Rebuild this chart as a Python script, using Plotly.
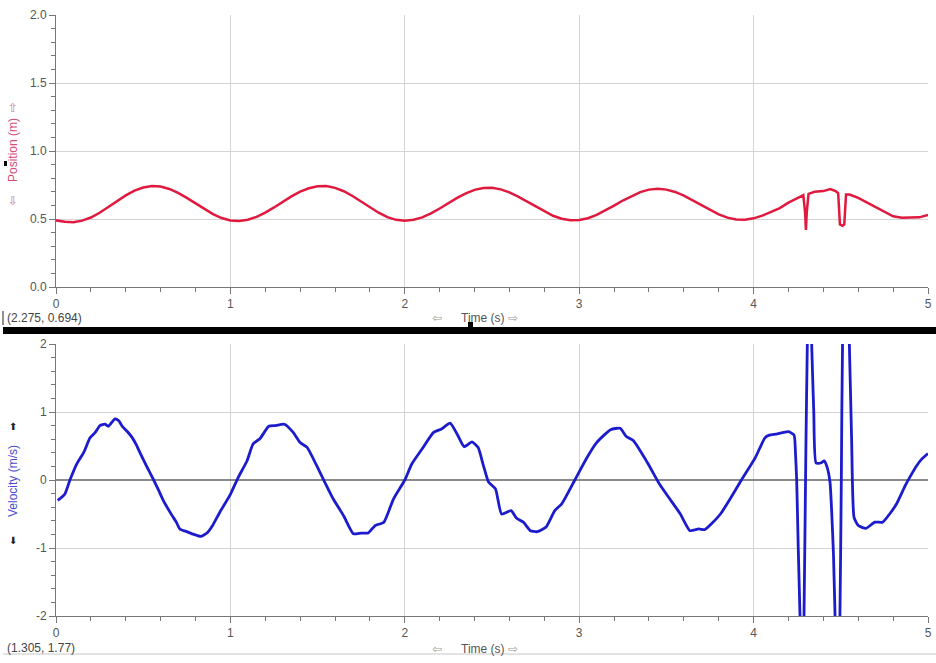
import plotly.graph_objects as go

# ---------------- data ----------------
t_pos = [0.00, 0.05, 0.10, 0.15, 0.20, 0.25, 0.30, 0.35, 0.40, 0.45, 0.50, 0.55,
         0.60, 0.65, 0.70, 0.75, 0.80, 0.85, 0.90, 0.95, 1.00, 1.05,
         1.10, 1.15, 1.20, 1.25, 1.30, 1.35, 1.40, 1.45, 1.50, 1.55,
         1.60, 1.65, 1.70, 1.75, 1.80, 1.85, 1.90, 1.95, 2.00,
         2.05, 2.10, 2.15, 2.20, 2.25, 2.30, 2.35, 2.40, 2.45, 2.50,
         2.55, 2.60, 2.65, 2.70, 2.75, 2.80, 2.85, 2.90, 2.95, 3.00,
         3.05, 3.10, 3.15, 3.20, 3.25, 3.30, 3.35, 3.40, 3.45,
         3.50, 3.55, 3.60, 3.65, 3.70, 3.75, 3.80, 3.85, 3.90, 3.95,
         4.00, 4.05, 4.10, 4.15, 4.20, 4.25, 4.27, 4.285, 4.295, 4.300, 4.305,
         4.315, 4.35, 4.40, 4.44, 4.47, 4.485, 4.495, 4.51, 4.52, 4.53,
         4.55, 4.60, 4.65, 4.70, 4.75, 4.80, 4.85, 4.90, 4.95, 5.00]
position = [0.490, 0.480, 0.477, 0.488, 0.511, 0.546, 0.588, 0.632, 0.674, 0.709, 0.732, 0.743,
            0.739, 0.721, 0.692, 0.655, 0.614, 0.573, 0.536, 0.507, 0.489, 0.485,
            0.495, 0.516, 0.547, 0.585, 0.626, 0.666, 0.701, 0.726, 0.741, 0.742,
            0.729, 0.704, 0.669, 0.628, 0.585, 0.546, 0.514, 0.494, 0.487,
            0.494, 0.512, 0.541, 0.577, 0.617, 0.655, 0.689, 0.714, 0.728, 0.729,
            0.718, 0.696, 0.665, 0.629, 0.591, 0.555, 0.524, 0.502, 0.491, 0.492,
            0.506, 0.530, 0.562, 0.598, 0.636, 0.670, 0.698, 0.716, 0.722,
            0.716, 0.699, 0.672, 0.638, 0.601, 0.565, 0.534, 0.510, 0.497, 0.495,
            0.505, 0.525, 0.550, 0.580, 0.620, 0.655, 0.670, 0.675, 0.550, 0.420, 0.550,
            0.685, 0.700, 0.705, 0.720, 0.705, 0.690, 0.460, 0.450, 0.460, 0.680,
            0.680, 0.655, 0.620, 0.585, 0.550, 0.520, 0.510, 0.510, 0.512, 0.530]

t_vel = [0.01, 0.05, 0.08, 0.12, 0.16, 0.195, 0.225, 0.252, 0.281, 0.30, 0.338, 0.36,
         0.38, 0.41, 0.435, 0.46, 0.48, 0.52, 0.56, 0.59, 0.615, 0.665, 0.69, 0.71,
         0.75, 0.79, 0.83, 0.865, 0.90, 0.94, 1.00, 1.045, 1.095, 1.13, 1.17, 1.22,
         1.26, 1.31, 1.36, 1.40, 1.44, 1.495, 1.535, 1.59, 1.65, 1.705, 1.75, 1.79,
         1.83, 1.88, 1.935, 2.00, 2.04, 2.10, 2.165, 2.21, 2.26, 2.305, 2.34, 2.385,
         2.42, 2.45, 2.48, 2.52, 2.555, 2.61, 2.64, 2.68, 2.72, 2.76, 2.81, 2.86,
         2.90, 2.975, 3.04, 3.10, 3.18, 3.235, 3.27, 3.31, 3.39, 3.46, 3.52, 3.58,
         3.635, 3.685, 3.72, 3.76, 3.81, 3.865, 3.93, 4.01, 4.065, 4.09, 4.13, 4.20,
         4.232, 4.240, 4.247, 4.256, 4.266, 4.277, 4.289, 4.300, 4.308, 4.320, 4.333,
         4.345, 4.358, 4.385, 4.404, 4.42, 4.438, 4.448, 4.458, 4.467, 4.481, 4.495,
         4.503, 4.51, 4.53, 4.549, 4.562, 4.576, 4.60, 4.645, 4.695, 4.74, 4.78,
         4.82, 4.87, 4.90, 4.935, 4.965, 5.00]
velocity = [-0.30, -0.21, 0.00, 0.24, 0.41, 0.62, 0.70, 0.80, 0.82, 0.79, 0.90, 0.87,
            0.79, 0.71, 0.63, 0.52, 0.41, 0.20, 0.00, -0.16, -0.30, -0.52, -0.62, -0.72,
            -0.76, -0.80, -0.83, -0.78, -0.66, -0.47, -0.21, 0.04, 0.28, 0.53, 0.61, 0.79,
            0.80, 0.82, 0.70, 0.55, 0.48, 0.21, 0.00, -0.28, -0.53, -0.79, -0.78, -0.78,
            -0.67, -0.62, -0.28, 0.00, 0.235, 0.46, 0.70, 0.75, 0.835, 0.65, 0.49, 0.56,
            0.48, 0.22, -0.03, -0.13, -0.50, -0.45, -0.56, -0.62, -0.745, -0.76, -0.69, -0.45,
            -0.35, 0.00, 0.31, 0.55, 0.74, 0.76, 0.64, 0.58, 0.26, -0.06, -0.28, -0.50,
            -0.745, -0.72, -0.73, -0.64, -0.50, -0.28, 0.00, 0.33, 0.62, 0.66, 0.675, 0.71,
            0.66, 0.40, 0.00, -1.00, -2.00, -3.40, -2.00, 0.50, 2.00, 3.40, 2.00,
            1.00, 0.25, 0.25, 0.28, 0.20, -0.03, -0.48, -1.10, -2.00, -3.40, -2.00,
            0.00, 2.00, 3.40, 2.00, 0.60, -0.55, -0.67, -0.71, -0.62, -0.62, -0.50,
            -0.35, -0.08, 0.06, 0.21, 0.31, 0.39]

x_ticks = [0, 1, 2, 3, 4, 5]
pos_ticks = [0.0, 0.5, 1.0, 1.5, 2.0]
pos_tick_text = ["0.0", "0.5", "1.0", "1.5", "2.0"]
vel_ticks = [-2, -1, 0, 1, 2]
vel_tick_text = ["-2", "-1", "0", "1", "2"]

# ---------------- figure ----------------
W, H = 936, 663
def px(x):
    return x / W
def py(y):
    return 1 - y / H

FONT = "Liberation Sans, Arial, sans-serif"
fig = go.Figure()
fig.add_trace(go.Scatter(x=t_pos, y=position, mode="lines",
                         line=dict(color="#e0193f", width=2.5),
                         xaxis="x", yaxis="y", hoverinfo="skip", showlegend=False))
fig.add_trace(go.Scatter(x=t_vel, y=velocity, mode="lines",
                         line=dict(color="#1c1ccc", width=2.8, shape="spline", smoothing=0.5),
                         xaxis="x2", yaxis="y2", hoverinfo="skip", showlegend=False))

xdom = [px(56), px(928)]
common_x = dict(range=[0, 5], tickvals=x_ticks, ticktext=[str(v) for v in x_ticks],
                showgrid=True, gridcolor="#d4d4d4", gridwidth=1,
                showline=True, linecolor="#777", linewidth=1,
                ticks="outside", ticklen=6, tickcolor="#777",
                tickfont=dict(family=FONT, size=12, color="#555"),
                minor=dict(dtick=0.2, tick0=0, ticks="outside", ticklen=4, tickcolor="#777", showgrid=False),
                zeroline=False, fixedrange=True, automargin=False)
common_y = dict(showgrid=True, gridcolor="#d4d4d4", gridwidth=1,
                showline=True, linecolor="#777", linewidth=1,
                ticks="outside", ticklen=6, tickcolor="#777",
                tickfont=dict(family=FONT, size=12, color="#555"),
                fixedrange=True, automargin=False)

fig.update_layout(
    width=W, height=H,
    margin=dict(l=0, r=0, t=0, b=0, autoexpand=False),
    paper_bgcolor="white", plot_bgcolor="white",
    xaxis=dict(domain=xdom, anchor="y", **common_x),
    yaxis=dict(domain=[py(287), py(15)], anchor="x", range=[0, 2],
               tickvals=pos_ticks, ticktext=pos_tick_text, zeroline=False,
               minor=dict(dtick=0.1, tick0=0, ticks="outside", ticklen=4, tickcolor="#777", showgrid=False),
               **common_y),
    xaxis2=dict(domain=xdom, anchor="y2", **common_x),
    yaxis2=dict(domain=[py(616), py(344)], anchor="x2", range=[-2, 2],
                tickvals=vel_ticks, ticktext=vel_tick_text,
                zeroline=True, zerolinecolor="#8a8a8a", zerolinewidth=1.5,
                minor=dict(dtick=0.2, tick0=0, ticks="outside", ticklen=4, tickcolor="#777", showgrid=False),
                **common_y),
)

ann = []
def text(x, y, s, color="#444", size=12, angle=0, family=FONT, xanchor="center"):
    ann.append(dict(x=px(x), y=py(y), xref="paper", yref="paper", text=s, showarrow=False,
                    font=dict(family=family, size=size, color=color), textangle=angle,
                    xanchor=xanchor, yanchor="middle"))

# position axis title with arrows
text(13, 150, "Position (m)", color="#d24a78", angle=-90)
text(13, 108, "⇧", color="#c87a95", size=12, family="DejaVu Sans")
text(13, 201, "⇩", color="#c87a95", size=12, family="DejaVu Sans")
# velocity axis title with arrows
text(13, 481, "Velocity (m/s)", color="#4a4acc", angle=-90)
text(13, 426, "⬆", color="#222", size=10, family="DejaVu Sans")
text(13, 540, "⬇", color="#222", size=10, family="DejaVu Sans")
# time titles
for yy in (318, 649):
    text(483, yy, "Time (s)", color="#555")
    text(437, yy, "⇦", color="#999", size=12, family="DejaVu Sans")
    text(513, yy, "⇨", color="#999", size=12, family="DejaVu Sans")
# coordinate readouts
text(5, 318, "(2.275, 0.694)", color="#444", xanchor="left")
text(5, 648, "(1.305, 1.77)", color="#444", xanchor="left")
fig.update_layout(annotations=ann)

shapes = [
    dict(type="rect", xref="paper", yref="paper", x0=px(3), x1=1, y0=py(334), y1=py(327),
         fillcolor="black", line=dict(width=0)),
    dict(type="rect", xref="paper", yref="paper", x0=px(468), x1=px(473), y0=py(327), y1=py(322),
         fillcolor="black", line=dict(width=0)),
    dict(type="rect", xref="paper", yref="paper", x0=px(4), x1=px(7), y0=py(166), y1=py(161),
         fillcolor="black", line=dict(width=0)),
    dict(type="line", xref="paper", yref="paper", x0=px(3), x1=1, y0=py(654), y1=py(654),
         line=dict(color="#c8c8c8", width=1)),
    dict(type="line", xref="paper", yref="paper", x0=px(3), x1=px(3), y0=py(325), y1=py(311),
         line=dict(color="#222", width=1)),
]
fig.update_layout(shapes=shapes)

fig.write_html("out.html", config=dict(displayModeBar=False, staticPlot=True),
               post_script="document.body.style.margin='0';document.body.style.overflow='hidden';")
